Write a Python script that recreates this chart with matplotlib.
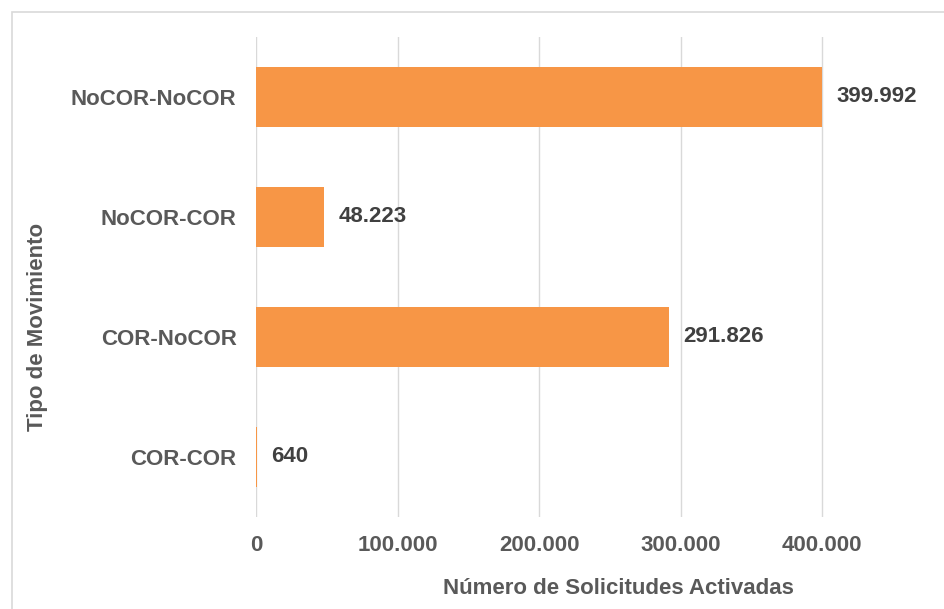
import matplotlib
matplotlib.use("Agg")
import matplotlib.pyplot as plt
from matplotlib.patches import Rectangle
from matplotlib.ticker import FuncFormatter

categories = ["COR-COR", "COR-NoCOR", "NoCOR-COR", "NoCOR-NoCOR"]
values = [640, 291826, 48223, 399992]
xticks = [0, 100000, 200000, 300000, 400000]

plt.rcParams['font.family'] = ['Liberation Sans', 'DejaVu Sans']
txt = '#404040'
axtxt = '#595959'
fs = 16

fig = plt.figure(figsize=(9.44, 6.09), dpi=100)
ax = fig.add_axes([256/944, (609-517)/609, (893-256)/944, 480/609])

fmt = lambda v: f"{int(v):,}".replace(",", ".")
ypos = list(range(len(categories)))
ax.barh(ypos, values, height=0.5, color='#F79646', zorder=3)
for y, v in zip(ypos, values):
    ax.annotate(fmt(v), (v, y), xytext=(10, 0), textcoords='offset points',
                va='center', ha='left', fontsize=fs, fontweight='bold', color=txt)

ax.set_xlim(0, 450000)
ax.set_ylim(-0.5, 3.5)
ax.set_xticks(xticks)
ax.xaxis.set_major_formatter(FuncFormatter(lambda v, p: fmt(v)))
ax.set_yticks(ypos)
ax.set_yticklabels(categories)
ax.grid(axis='x', color='#D9D9D9', linewidth=1, zorder=0)
for s in ax.spines.values():
    s.set_visible(False)
ax.tick_params(length=0, labelsize=fs, labelcolor=axtxt)
ax.tick_params(axis='y', pad=14)
ax.tick_params(axis='x', pad=13)
for lab in ax.get_xticklabels() + ax.get_yticklabels():
    lab.set_fontweight('bold')

ax.set_xlabel("Número de Solicitudes Activadas", fontsize=fs, fontweight='bold', color=axtxt)
ax.set_ylabel("Tipo de Movimiento", fontsize=fs, fontweight='bold', color=axtxt)
ax.xaxis.set_label_coords((618-256)/637, -(588-517)/480)
ax.yaxis.set_label_coords(-(256-38)/637, (517-327)/480)
ax.xaxis.label.set_va('center')
ax.yaxis.label.set_va('center')

fig.patches.append(Rectangle((12/944, -0.1), 1.2, 1 - 12/609 + 0.1, transform=fig.transFigure,
                             fill=False, edgecolor='#D9D9D9', linewidth=1.2))

fig.savefig("out.png", dpi=100)
